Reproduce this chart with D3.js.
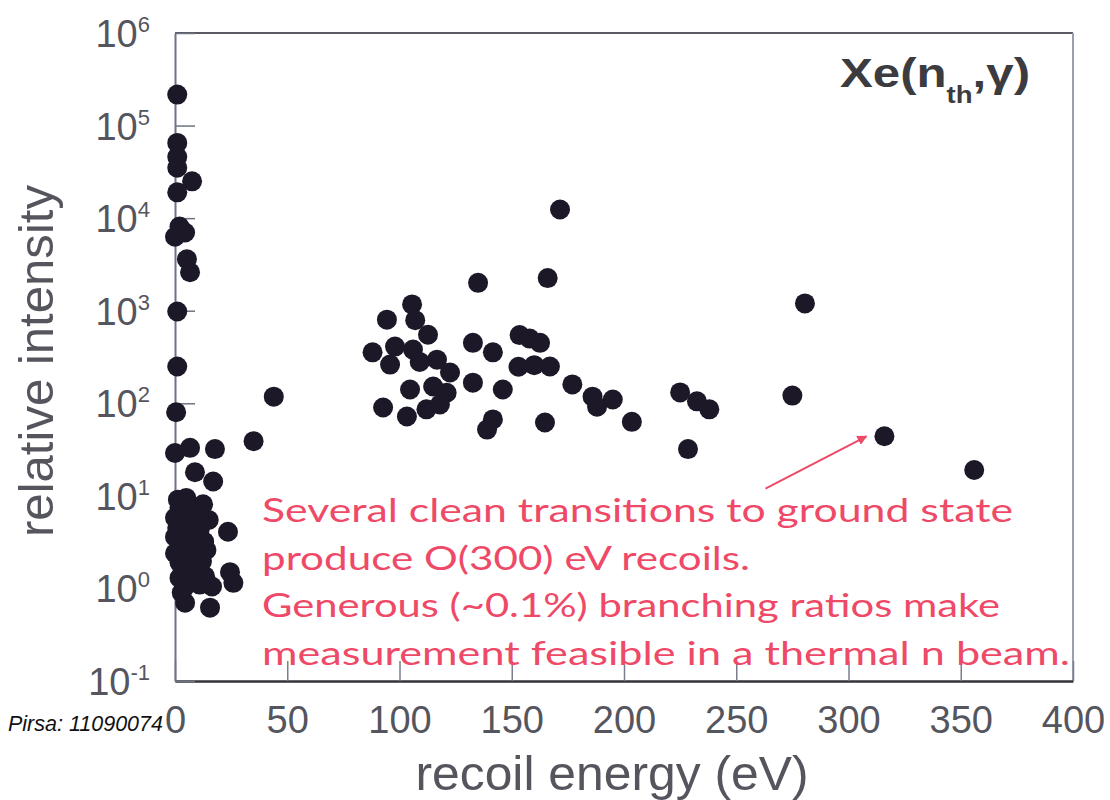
<!DOCTYPE html>
<html>
<head>
<meta charset="utf-8">
<script src="https://cdn.jsdelivr.net/npm/d3@7"></script>
<style>
  html, body { margin: 0; padding: 0; background: #fff; }
  svg { display: block; }
</style>
</head>
<body>
<svg id="chart" width="1110" height="800"></svg>
<script>
// Gamma lines from thermal neutron capture on xenon: recoil energy (eV) vs relative intensity
const recoilEnergy = [
  // near-zero recoils, strong lines
  1, 1, 1, 1, 7.6, 1, 2, 4.5, 0, 5.3, 6.7, 1, 1, 0.5,
  // near-zero recoils, weak lines
  0, 6.7, 17.8, 8.9, 17, 1.3, 12.5, 7.5, 10, 0, 5.8, 3, 11, 23.6, 0, 8, 8.9, 0, 4.5,
  12, 3.6, 2, 6, 10, 13.4, 24.5, 26, 4.5, 16.5, 4.5, 15.6,
  2, 5, 9, 4, 10, 14, 2, 7, 11, 13, 1, 15, 6, 3,
  35, 44,
  // 90 - 170 eV group
  105.6, 94.4, 107, 112.7, 88, 98, 106, 95.8, 109, 116.7, 122.5, 104.7, 115, 121,
  92.7, 103.3, 112, 118, 132.7, 141.6, 132.7, 146, 141.6, 139,
  153.5, 158, 162.6, 153, 160, 167, 164.8, 135, 166, 171.5,
  // 175 - 360 eV
  177, 186, 188, 195, 203.5, 225, 232.5, 238, 228.5, 275, 280.6, 316, 356
];
const relIntensity = [
  2.16e5, 6.5e4, 4.6e4, 3.5e4, 2.5e4, 1.9e4, 8.1e3, 7.0e3, 6.3e3, 3.6e3, 2.6e3, 980, 250, 80,
  29, 33, 32, 18, 14.3, 9.1, 8.1, 7.1, 6, 5.8, 5.6, 4.7, 4.3, 4.1, 3.6, 3.5, 2.8, 2.4, 2.2,
  1.95, 1.73, 1.3, 1.6, 1.5, 1.35, 1.5, 1.15, 1.05, 1.05, 0.7, 0.62,
  7.5, 9.5, 5, 3.2, 2.5, 2.6, 1.9, 1.25, 1.1, 3.2, 4.5, 5.5, 2, 0.9,
  39, 118,
  1170, 800, 790, 550, 355, 410, 380, 262, 280, 296, 215, 141, 152, 130,
  90, 72, 86, 97, 450, 355, 167, 141, 67, 52,
  545, 500, 450, 248, 258, 250, 62, 2000, 2250, 12400,
  160, 118, 92, 110, 63, 131, 105, 86, 32, 121, 1200, 44, 19
];

const xTicks = [0, 50, 100, 150, 200, 250, 300, 350, 400];
const yExponents = [-1, 0, 1, 2, 3, 4, 5, 6];

const noteLines = [
  "Several clean transitions to ground state",
  "produce O(300) eV recoils.",
  "Generous (~0.1%) branching ratios make",
  "measurement feasible in a thermal n beam."
];
const noteWidths = [751, 488, 738, 808];
const arrowFrom = [263, 12];
const arrowTo = [308, 44];

const svg = d3.select("#chart");
const plotLeft = 175, plotRight = 1073, plotTop = 33, plotBottom = 681;

const x = d3.scaleLinear().domain([0, 400]).range([plotLeft, plotRight]);
const y = d3.scaleLog().domain([0.1, 1e6]).range([plotBottom, plotTop]);

const labelColor = "#55555e";
const noteColor = "#ee4a68";
const sans = "'Liberation Sans', Arial, sans-serif";

// frame: top and right edges
svg.append("line").attr("x1", plotLeft).attr("x2", plotRight).attr("y1", plotTop).attr("y2", plotTop)
  .attr("stroke", "#5a5a62").attr("stroke-width", 2);
svg.append("line").attr("x1", plotRight).attr("x2", plotRight).attr("y1", plotTop).attr("y2", plotBottom)
  .attr("stroke", "#9a9fae").attr("stroke-width", 2);

// bottom axis, ticks pointing into the plot
const gx = svg.append("g").attr("transform", `translate(0,${plotBottom})`)
  .call(d3.axisBottom(x).tickValues(xTicks).tickSizeInner(-20).tickSizeOuter(0)
    .tickFormat(d3.format("d")));
gx.select(".domain").attr("stroke", "#333338").attr("stroke-width", 2.5);
gx.selectAll(".tick line").attr("stroke", "#7a7f8e").attr("stroke-width", 1.5);
gx.selectAll(".tick text")
  .attr("font-family", sans)
  .attr("font-size", 38).attr("fill", labelColor)
  .attr("dy", null).attr("y", 52);

// left axis, ticks pointing into the plot, labels as powers of ten
const gy = svg.append("g").attr("transform", `translate(${plotLeft},0)`)
  .call(d3.axisLeft(y).tickValues(yExponents.map(e => Math.pow(10, e)))
    .tickSizeInner(-20).tickSizeOuter(0).tickFormat(""));
gy.select(".domain").attr("stroke", "#6f7383").attr("stroke-width", 2);
gy.selectAll(".tick line").attr("stroke", "#6f7383").attr("stroke-width", 1.5);
gy.selectAll(".tick text").remove();
gy.selectAll(".tick").each(function(d) {
  const e = Math.round(Math.log10(d));
  const t = d3.select(this).append("text")
    .attr("x", 150 - plotLeft).attr("y", 13.5)
    .attr("text-anchor", "end")
    .attr("font-family", sans)
    .attr("fill", labelColor);
  t.append("tspan").attr("font-size", 38).text("10");
  t.append("tspan").attr("font-size", 22).attr("dy", -15).text(e < 0 ? "-" + (-e) : String(e));
});

// axis titles
svg.append("text")
  .attr("x", 612).attr("y", 790).attr("text-anchor", "middle")
  .attr("font-family", sans)
  .attr("font-size", 49).attr("fill", labelColor)
  .attr("textLength", 393).attr("lengthAdjust", "spacingAndGlyphs")
  .text("recoil energy (eV)");
svg.append("text")
  .attr("transform", "translate(53,361) rotate(-90)").attr("text-anchor", "middle")
  .attr("font-family", sans)
  .attr("font-size", 49).attr("fill", labelColor)
  .attr("textLength", 352).attr("lengthAdjust", "spacingAndGlyphs")
  .text("relative intensity");

// reaction label
const title = svg.append("text")
  .attr("transform", "translate(840,87) scale(1.2,1)")
  .attr("font-family", sans)
  .attr("font-weight", "bold").attr("fill", "#3c3c40");
title.append("tspan").attr("font-size", 41).text("Xe(n");
title.append("tspan").attr("font-size", 23).attr("dy", 16).text("th");
title.append("tspan").attr("font-size", 41).attr("dy", -16).text(",γ)");

// data points
const points = recoilEnergy.map((e, i) => ({ e, v: relIntensity[i] }));
svg.append("g").selectAll("circle").data(points).join("circle")
  .attr("cx", d => x(d.e)).attr("cy", d => y(d.v)).attr("r", 10)
  .attr("fill", "#1d1828");

// annotation text and arrow
const note = svg.append("g")
  .attr("font-family", "'Comic Sans MS', 'Lato', 'Noto Sans', sans-serif")
  .attr("font-size", 32).attr("fill", noteColor);
noteLines.forEach((line, i) => {
  note.append("text")
    .attr("x", 262).attr("y", 522 + i * 47.5)
    .attr("textLength", noteWidths[i]).attr("lengthAdjust", "spacingAndGlyphs")
    .text(line);
});

svg.append("defs").append("marker")
  .attr("id", "head").attr("viewBox", "0 0 10 10").attr("refX", 9).attr("refY", 5)
  .attr("markerWidth", 5).attr("markerHeight", 5).attr("orient", "auto")
  .append("path").attr("d", "M0,0 L10,5 L0,10 Z").attr("fill", noteColor);
svg.append("line")
  .attr("x1", x(arrowFrom[0])).attr("y1", y(arrowFrom[1]))
  .attr("x2", x(arrowTo[0])).attr("y2", y(arrowTo[1]))
  .attr("stroke", noteColor).attr("stroke-width", 2)
  .attr("marker-end", "url(#head)");

// source tag
svg.append("text")
  .attr("x", 8).attr("y", 731)
  .attr("font-family", sans)
  .attr("font-style", "italic").attr("font-size", 22).attr("fill", "#111")
  .attr("textLength", 155).attr("lengthAdjust", "spacingAndGlyphs")
  .text("Pirsa: 11090074");
</script>
</body>
</html>
